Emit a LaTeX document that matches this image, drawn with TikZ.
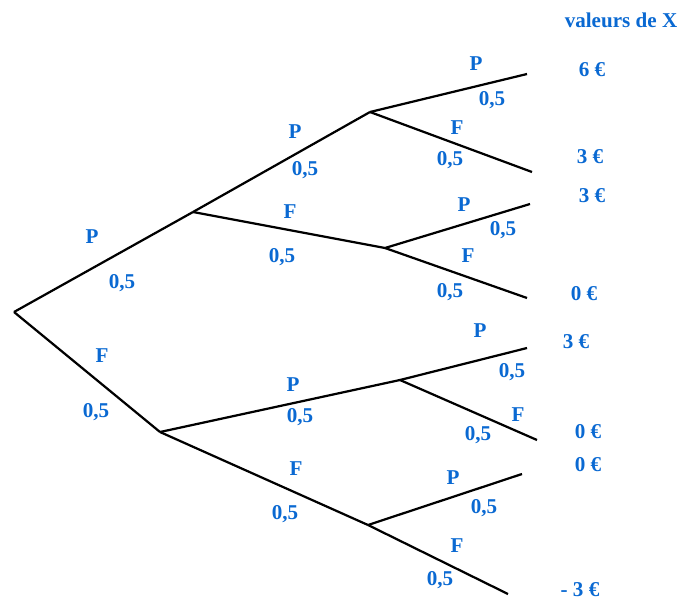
\documentclass[tikz,border=0pt]{standalone}
\usepackage{fontspec}
\setmainfont{Liberation Serif}
\usepackage{tikz}
\usetikzlibrary{positioning}

\definecolor{valblue}{RGB}{10,105,210}

\begin{document}
\begin{tikzpicture}[
    x=0.03cm, y=-0.03cm,
    branch/.style={line width=1.9pt, black},
    lab/.style={text=valblue, font=\fontsize{18}{20}\selectfont\bfseries, inner sep=0pt},
    val/.style={text=valblue, font=\fontsize{18}{20}\selectfont\bfseries, inner sep=0pt}
]
    \useasboundingbox (0,0) rectangle (688,603);

    % tree vertices
    \coordinate (root) at (14,312);
    \coordinate (p)    at (193,212);
    \coordinate (f)    at (160,432);
    \coordinate (pp)   at (370,112);
    \coordinate (pf)   at (385,248);
    \coordinate (fp)   at (400,380);
    \coordinate (ff)   at (368,525);
    \coordinate (ppp)  at (527,74);
    \coordinate (ppf)  at (532,172);
    \coordinate (pfp)  at (530,204);
    \coordinate (pff)  at (527,298);
    \coordinate (fpp)  at (527,348);
    \coordinate (fpf)  at (537,440);
    \coordinate (ffp)  at (522,474);
    \coordinate (fff)  at (508,594);

    % branches
    \draw[branch] (root) -- (p);
    \draw[branch] (root) -- (f);
    \draw[branch] (p) -- (pp);
    \draw[branch] (p) -- (pf);
    \draw[branch] (f) -- (fp);
    \draw[branch] (f) -- (ff);
    \draw[branch] (pp) -- (ppp);
    \draw[branch] (pp) -- (ppf);
    \draw[branch] (pf) -- (pfp);
    \draw[branch] (pf) -- (pff);
    \draw[branch] (fp) -- (fpp);
    \draw[branch] (fp) -- (fpf);
    \draw[branch] (ff) -- (ffp);
    \draw[branch] (ff) -- (fff);

    % first level labels
    \node[lab] (lp)  at (92,237)  {P};
    \node[lab] (lpq) at (122,283) {0,5};
    \node[lab] (lf)  at (102,356) {F};
    \node[lab] (lfq) at (96,412)  {0,5};

    % second level labels
    \node[lab] (lpp)  at (295,132) {P};
    \node[lab] (lppq) at (305,170) {0,5};
    \node[lab] (lpf)  at (290,212) {F};
    \node[lab] (lpfq) at (282,257) {0,5};
    \node[lab] (lfp)  at (293,385) {P};
    \node[lab] (lfpq) at (300,417) {0,5};
    \node[lab] (lff)  at (296,469) {F};
    \node[lab] (lffq) at (285,514) {0,5};

    % third level labels
    \node[lab] (lppp)  at (476,64)  {P};
    \node[lab] (lpppq) at (492,100) {0,5};
    \node[lab] (lppf)  at (457,128) {F};
    \node[lab] (lppfq) at (450,160) {0,5};
    \node[lab] (lpfp)  at (464,205) {P};
    \node[lab] (lpfpq) at (503,230) {0,5};
    \node[lab] (lpff)  at (468,256) {F};
    \node[lab] (lpffq) at (450,292) {0,5};
    \node[lab] (lfpp)  at (480,331) {P};
    \node[lab] (lfppq) at (512,372) {0,5};
    \node[lab] (lfpf)  at (518,415) {F};
    \node[lab] (lfpfq) at (478,435) {0,5};
    \node[lab] (lffp)  at (453,478) {P};
    \node[lab] (lffpq) at (484,508) {0,5};
    \node[lab] (lfff)  at (457,546) {F};
    \node[lab] (lfffq) at (440,580) {0,5};

    % values of X
    \node[val] (head) at (621,20)  {valeurs de X};
    \node[val] (x1)   at (592,70)  {6 €};
    \node[val] (x2)   at (590,157) {3 €};
    \node[val] (x3)   at (592,196) {3 €};
    \node[val] (x4)   at (584,294) {0 €};
    \node[val] (x5)   at (576,342) {3 €};
    \node[val] (x6)   at (588,432) {0 €};
    \node[val] (x7)   at (588,465) {0 €};
    \node[val] (x8)   at (580,590) {- 3 €};
\end{tikzpicture}
\end{document}
